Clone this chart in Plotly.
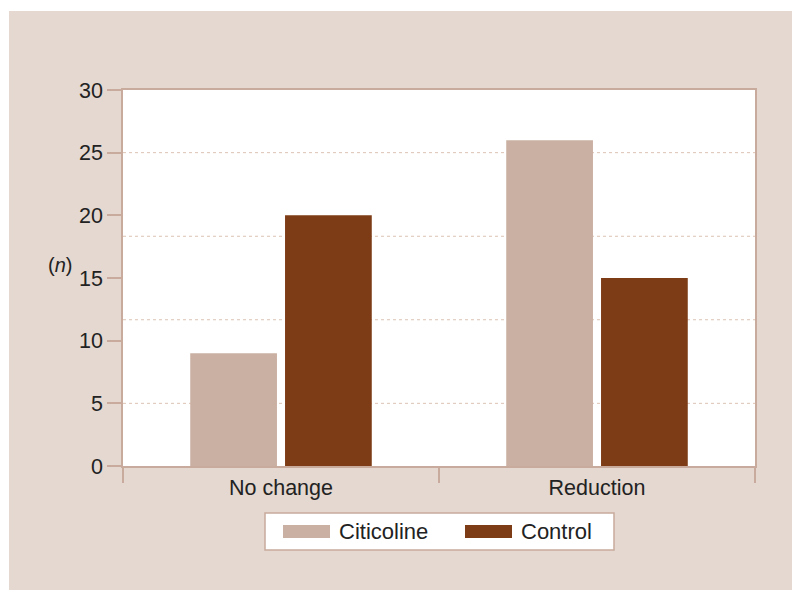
import plotly.graph_objects as go

# ---- data ----
CATEGORIES = ["No change", "Reduction"]
SERIES_NAMES = ["Citicoline", "Control"]
CITICOLINE = [9, 26]
CONTROL = [20, 15]
Y_TICKS = [0, 5, 10, 15, 20, 25, 30]
GRID_VALUES = [5, 11.67, 18.33, 25]
Y_LABEL = "(<i>n</i>)"

# ---- style ----
BG = "#e4d8d0"
FRAME = "#c8ab9c"
GRID = "#dcc2b4"
COLORS = ["#cab0a2", "#7e3c16"]
TEXT = "#222222"
FONT = "Liberation Sans, Arial, sans-serif"

OFF = 8  # page body margin
W, H = 800, 590
ML, MT = 123 - OFF, 90 - OFF
PW, PH = 632, 376
MR = W - ML - PW
MB = H - MT - PH

def px_x(p):  # page pixel -> paper x
    return (p - OFF - ML) / PW

def px_y(p):  # page pixel -> paper y
    return (MT + PH - (p - OFF)) / PH

fig = go.Figure()
for name, vals, col in zip(SERIES_NAMES, [CITICOLINE, CONTROL], COLORS):
    fig.add_trace(go.Bar(x=CATEGORIES, y=vals, name=name, marker=dict(color=col, line=dict(width=0)),
                         showlegend=False))

shapes = []
# small extra white strips (page margin)
shapes.append(dict(type="rect", xref="paper", yref="paper", x0=px_x(OFF), x1=px_x(9), y0=px_y(H + OFF), y1=px_y(OFF),
                   fillcolor="white", line=dict(width=0), layer="above"))
shapes.append(dict(type="rect", xref="paper", yref="paper", x0=px_x(OFF), x1=px_x(W + OFF), y0=px_y(11), y1=px_y(OFF),
                   fillcolor="white", line=dict(width=0), layer="above"))
# dashed grid lines
for g in GRID_VALUES:
    shapes.append(dict(type="line", xref="paper", yref="y", x0=0, x1=1, y0=g, y1=g,
                       line=dict(color=GRID, width=1, dash="3px,3px"), layer="below"))
# custom legend box
shapes.append(dict(type="rect", xref="paper", yref="paper", x0=px_x(265), x1=px_x(614), y0=px_y(550), y1=px_y(513),
                   fillcolor="white", line=dict(color=FRAME, width=1.5), layer="above"))
annotations = []
legend_layout = [(283, 330, 338), (465, 512, 520)]
for (sx0, sx1, tx), name, col in zip(legend_layout, SERIES_NAMES, COLORS):
    shapes.append(dict(type="rect", xref="paper", yref="paper", x0=px_x(sx0), x1=px_x(sx1),
                       y0=px_y(538), y1=px_y(525), fillcolor=col, line=dict(width=0), layer="above"))
    annotations.append(dict(text=name, xref="paper", yref="paper", x=px_x(tx - 1), y=px_y(531.5),
                            xanchor="left", yanchor="middle", showarrow=False,
                            font=dict(size=22, color=TEXT, family=FONT)))
annotations.append(dict(text=Y_LABEL, xref="paper", yref="paper", x=px_x(60), y=px_y(265),
                        xanchor="center", yanchor="middle", showarrow=False,
                        font=dict(size=20, color=TEXT, family=FONT)))

fig.update_layout(
    width=W, height=H,
    margin=dict(l=ML, r=MR, t=MT, b=MB, pad=0),
    paper_bgcolor=BG, plot_bgcolor="white",
    barmode="group", bargap=0.4, bargroupgap=0.085,
    font=dict(family=FONT, size=21, color=TEXT),
    shapes=shapes, annotations=annotations,
    showlegend=False,
    xaxis=dict(showline=True, linecolor=FRAME, linewidth=1.5, mirror=True,
               ticks="outside", tickson="boundaries", ticklen=15, tickcolor=FRAME, tickwidth=1.5,
               showgrid=False, tickfont=dict(size=21.5, color=TEXT), ticklabelstandoff=1),
    yaxis=dict(range=[0, 30], tickvals=Y_TICKS, showline=True, linecolor=FRAME, linewidth=1.5, mirror=True,
               ticks="outside", ticklen=14, tickcolor=FRAME, tickwidth=1.5, showgrid=False, zeroline=False,
               tickfont=dict(size=21.5, color=TEXT)),
)

fig.write_html(
    "out.html",
    post_script="document.documentElement.style.overflow='hidden';document.body.style.overflow='hidden';",
)
